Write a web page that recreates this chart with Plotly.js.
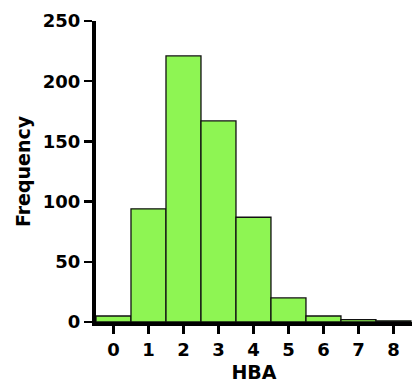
<!DOCTYPE html>
<html><head><meta charset="utf-8">
<script src="https://cdn.plot.ly/plotly-3.0.1.min.js"></script>
<style>html,body{margin:0;padding:0;background:#fff;}#chart{width:412px;height:388px;}</style>
</head><body><div id="chart"></div>
<script>
const hba = [0, 1, 2, 3, 4, 5, 6, 7, 8];
const frequency = [5, 94, 221, 167, 87, 20, 5, 2, 1];
const xTicks = [0, 1, 2, 3, 4, 5, 6, 7, 8];
const yTicks = [0, 50, 100, 150, 200, 250];

const font = {family: 'DejaVu Sans, sans-serif', size: 18, color: '#000', weight: 'bold'};

Plotly.newPlot('chart', [{
  type: 'bar', x: hba, y: frequency, width: 1,
  marker: {color: '#8ef553', line: {color: '#111', width: 1.3}},
  hoverinfo: 'skip'
}], {
  width: 412, height: 388,
  margin: {l: 96, r: 0, t: 21, b: 66},
  paper_bgcolor: '#fff', plot_bgcolor: '#fff',
  showlegend: false,
  xaxis: {
    range: [-0.5, 8.53], tickvals: xTicks, ticktext: xTicks.map(String),
    showgrid: false, zeroline: false, showline: true, linecolor: '#000', linewidth: 4,
    ticks: 'outside', ticklen: 8, tickwidth: 2.5, tickcolor: '#000',
    tickfont: font,
    title: {text: 'HBA', font: Object.assign({}, font, {size: 19}), standoff: 8}
  },
  yaxis: {
    range: [0, 250], tickvals: yTicks, ticktext: yTicks.map(String),
    showgrid: false, zeroline: false, showline: true, linecolor: '#000', linewidth: 4,
    ticks: 'outside', ticklen: 8, tickwidth: 2.5, tickcolor: '#000',
    tickfont: font,
    title: {text: 'Frequency', font: Object.assign({}, font, {size: 19}), standoff: 8}
  }
}, {staticPlot: true});
</script></body></html>
